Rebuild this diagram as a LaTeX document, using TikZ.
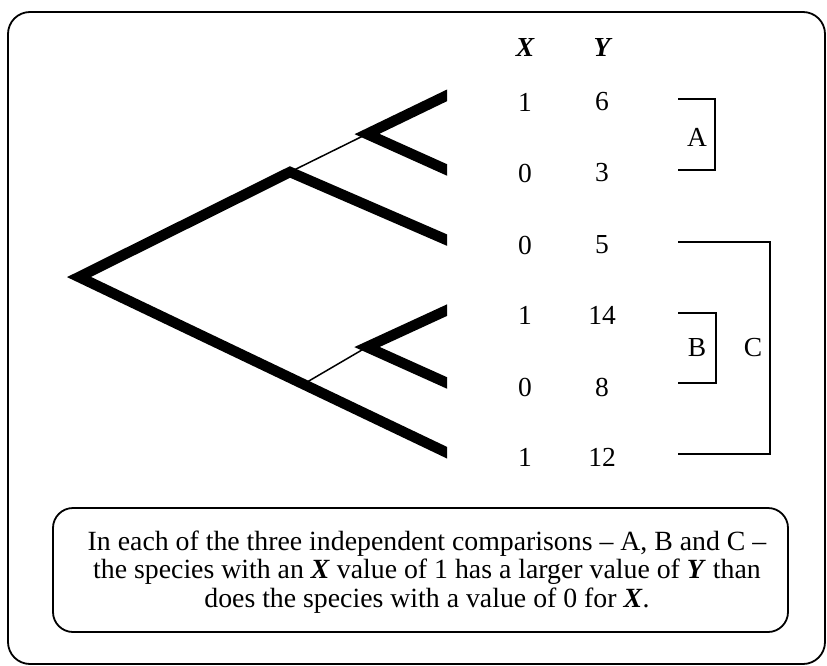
\documentclass[tikz,border=0pt]{standalone}
\usepackage{fontspec}
\setmainfont{Liberation Serif}
\usepackage{tikz}
\usetikzlibrary{calc,positioning}
\tikzset{
  br/.style={line width=10.5pt,line join=miter,line cap=butt},
  tw/.style={line width=1.5pt},
  brk/.style={line width=1.8pt},
  num/.style={font=\fontsize{27.5pt}{29pt}\selectfont,inner sep=0pt},
  hd/.style={font=\fontsize{27.5pt}{29pt}\selectfont\bfseries\itshape,inner sep=0pt}
}

\begin{document}
\begin{tikzpicture}[x=1pt,y=-1pt]
\useasboundingbox (0,0) rectangle (827,666);
\draw[line width=1.8pt,rounded corners=22pt] (8,12) rectangle (825,664);
% tree
\coordinate (root) at (79,277);
\coordinate (up) at (290,172);
\coordinate (lo) at (302,385);
\coordinate (a) at (367,134);
\coordinate (b) at (367,347);
\coordinate (l1) at (456,91);
\coordinate (l2) at (456,174);
\coordinate (l3) at (456,244);
\coordinate (l4) at (456,306);
\coordinate (l5) at (456,387);
\coordinate (l6) at (456,457);
\begin{scope}
\clip (0,0) rectangle (447,666);
\draw[br] (l3)--(up)--(root)--(l6);
\draw[br] (l1)--(a)--(l2);
\draw[br] (l4)--(b)--(l5);
\end{scope}
\draw[tw] (up)--(a);
\draw[tw] (lo)--(b);
% table
\node[hd] (hx) at (525,47) {X};
\node[hd] (hy) at (602,47) {Y};
\node[num] (x1) at (525,102) {1};
\node[num] (y1) at (602,102) {6};
\node[num] (x2) at (525,173) {0};
\node[num] (y2) at (602,173) {3};
\node[num] (x3) at (525,245) {0};
\node[num] (y3) at (602,245) {5};
\node[num] (x4) at (525,315) {1};
\node[num] (y4) at (602,315) {14};
\node[num] (x5) at (525,387) {0};
\node[num] (y5) at (602,387) {8};
\node[num] (x6) at (525,457) {1};
\node[num] (y6) at (602,457) {12};
% brackets
\draw[brk] (678,99)--(715,99)--(715,170)--(678,170);
\node[num] (ca) at (697,137) {A};
\draw[brk] (678,313)--(716,313)--(716,383)--(678,383);
\node[num] (cb) at (697,348) {B};
\draw[brk] (678,242)--(770,242)--(770,454)--(678,454);
\node[num] (cc) at (753,348) {C};
% note
\node[draw,line width=1.8pt,rounded corners=20pt,minimum width=735pt,minimum height=124pt] (note) at (420.5,570) {};
\node[align=center,font=\fontsize{27.8pt}{28.8pt}\selectfont] (notetxt) at (427,572)
  {In each of the three independent comparisons -- A, B and C --\\
   the species with an \textbf{\textit{X}} value of 1 has a larger value of \textbf{\textit{Y}} than\\
   does the species with a value of 0 for \textbf{\textit{X}}.};
\end{tikzpicture}
\end{document}
